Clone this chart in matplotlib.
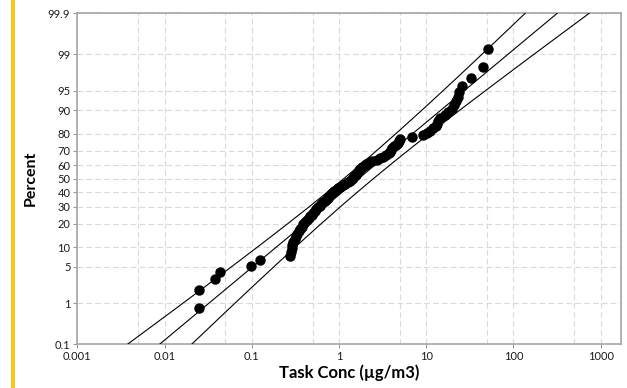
import numpy as np
from statistics import NormalDist
import matplotlib
matplotlib.use("Agg")
import matplotlib.pyplot as plt
from matplotlib.patches import Rectangle

# measured concentrations (ug/m3), sorted; plotting positions come from rank
conc = [0.025, 0.025, 0.038, 0.043, 0.0975, 0.124, 0.275, 0.285, 0.29, 0.292,
        0.30, 0.31, 0.32, 0.33, 0.345, 0.36, 0.375, 0.39, 0.41, 0.43,
        0.45, 0.47, 0.49, 0.51, 0.53, 0.55, 0.575, 0.60, 0.63, 0.66,
        0.69, 0.72, 0.75, 0.77, 0.80, 0.84, 0.88, 0.93, 0.98, 1.03,
        1.10, 1.18, 1.27, 1.34, 1.40, 1.45, 1.50, 1.55, 1.60, 1.65,
        1.70, 1.76, 1.85, 1.95, 2.05, 2.15, 2.40, 2.70, 2.95, 3.2,
        3.5, 3.7, 3.8, 3.95, 4.1, 4.3, 4.5, 4.7, 4.9, 5.05,
        6.8, 9.3, 10.2, 11.0, 12.0, 12.8, 13.3, 13.8, 14.5, 16.5,
        18.0, 20.0, 21.0, 22.0, 23.2, 24.0, 26.0, 32.5, 44.6, 51.6]

# fitted line and confidence bands, read at these percent levels
line_pct = [0.1, 0.5, 1, 2, 5, 10, 20, 30, 40, 50, 60, 70, 80, 90, 95, 98, 99, 99.5, 99.9]
fit_x = [0.00885, 0.02118, 0.03237, 0.05137, 0.1028, 0.1905, 0.4020, 0.6887, 1.091, 1.677,
         2.578, 4.083, 6.996, 14.76, 27.35, 54.73, 86.87, 132.7, 317.6]
upper_x = [0.00380, 0.01014, 0.01630, 0.02727, 0.05879, 0.1156, 0.2585, 0.4563, 0.7338, 1.134,
           1.734, 2.706, 4.499, 8.954, 15.64, 29.06, 43.72, 63.53, 136.4]
lower_x = [0.02062, 0.04426, 0.06431, 0.09676, 0.1798, 0.3141, 0.6250, 1.039, 1.621, 2.480,
           3.831, 6.162, 10.88, 24.32, 47.81, 103.1, 172.6, 277.3, 739.2]

y_ticks = [0.1, 1, 5, 10, 20, 30, 40, 50, 60, 70, 80, 90, 95, 99, 99.9]
x_ticks = [0.001, 0.01, 0.1, 1, 10, 100, 1000]
x_tick_labels = ["0.001", "0.01", "0.1", "1", "10", "100", "1000"]
x_minor = [0.005, 0.05, 0.5, 5, 50, 500]

_nd = NormalDist()
_ppf = np.vectorize(lambda v: _nd.inv_cdf(v / 100.0), otypes=[float])
_cdf = np.vectorize(lambda v: _nd.cdf(v) * 100.0, otypes=[float])


def _fwd(p):
    p = np.clip(np.asarray(p, dtype=float), 1e-9, 100 - 1e-9)
    return _ppf(p)


def _inv(z):
    return _cdf(np.asarray(z, dtype=float))


plt.rcParams["font.family"] = ["Lato", "DejaVu Sans"]

fig = plt.figure(figsize=(6.27, 3.88), dpi=100)
ax = fig.add_axes([0.1233, 0.1134, 0.8667, 0.8523])

n = len(conc)
pct = [(i + 1 - 0.3) / (n + 0.4) * 100 for i in range(n)]

ax.set_xscale("log")
ax.set_yscale("function", functions=(_fwd, _inv))

for xs in (upper_x, fit_x, lower_x):
    ax.plot(xs, line_pct, color="black", lw=0.8, zorder=3)
ax.plot(conc, pct, "o", color="black", ms=6.5, zorder=4)

ax.set_xlim(0.001, 1700)
ax.set_ylim(0.1, 99.9)

ax.set_xticks(x_ticks)
ax.set_xticklabels(x_tick_labels)
ax.set_xticks(x_minor, minor=True)
ax.set_yticks(y_ticks)
ax.set_yticklabels([f"{v:g}" for v in y_ticks])
ax.yaxis.set_minor_locator(matplotlib.ticker.NullLocator())

ax.grid(True, which="both", color="#d9d9d9", lw=0.8, ls=(0, (5, 3)))
ax.set_axisbelow(True)
ax.tick_params(axis="both", which="major", length=3, width=0.8, color="#999999",
               labelsize=8, labelcolor="#1a1a1a", pad=2)
ax.tick_params(axis="x", which="minor", length=0)

for s in ax.spines.values():
    s.set_color("#a6a6a6")
    s.set_linewidth(1.2)

ax.set_xlabel("Task Conc (µg/m3)", fontsize=12, fontweight="bold", labelpad=2)
ax.set_ylabel("Percent", fontsize=11.5, fontweight="bold", labelpad=7)

fig.patches.append(Rectangle((11 / 627, 0), 4 / 627, 1, transform=fig.transFigure,
                             facecolor="#F7C623", edgecolor="none"))

fig.savefig("out.png", dpi=100)
